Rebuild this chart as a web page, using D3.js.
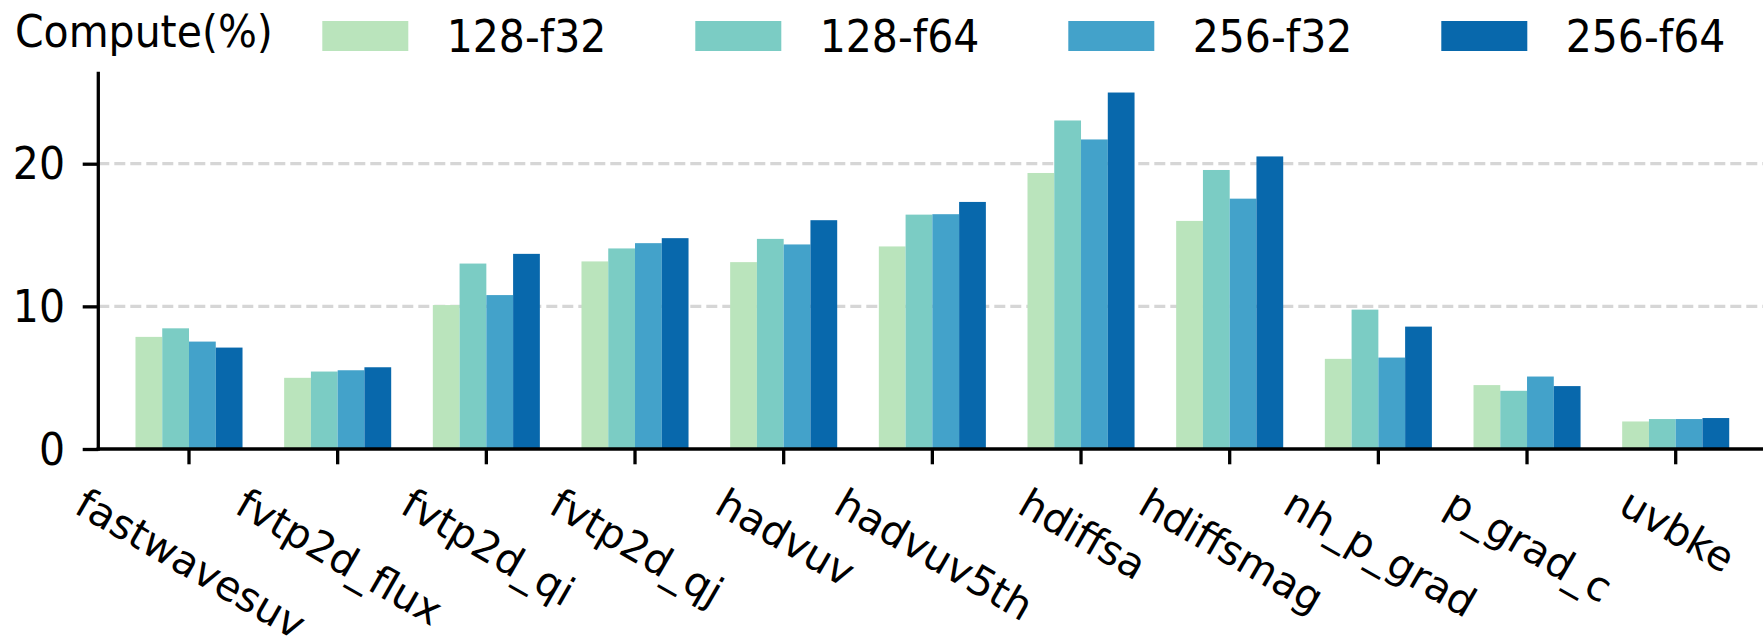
<!DOCTYPE html>
<html>
<head>
<meta charset="utf-8">
<script src="https://cdn.jsdelivr.net/npm/d3@7"></script>
<style>
  html, body { margin: 0; padding: 0; background: #fff; }
  svg { display: block; }
  text { font-family: "DejaVu Sans", sans-serif; fill: #000; }
</style>
</head>
<body>
<svg id="chart" width="1763" height="639"></svg>
<script>
const categories = ["fastwavesuv", "fvtp2d_flux", "fvtp2d_qi", "fvtp2d_qj", "hadvuv",
  "hadvuv5th", "hdiffsa", "hdiffsmag", "nh_p_grad", "p_grad_c", "uvbke"];
const seriesNames = ["128-f32", "128-f64", "256-f32", "256-f64"];
const s128f32 = [7.86, 4.99, 10.09, 13.15, 13.10, 14.20, 19.35, 15.99, 6.32, 4.48, 1.93];
const s128f64 = [8.46, 5.43, 13.00, 14.06, 14.73, 16.43, 23.03, 19.56, 9.77, 4.08, 2.10];
const s256f32 = [7.53, 5.52, 10.79, 14.43, 14.34, 16.46, 21.70, 17.55, 6.41, 5.08, 2.10];
const s256f64 = [7.11, 5.73, 13.68, 14.78, 16.04, 17.32, 24.99, 20.51, 8.58, 4.41, 2.17];
const seriesColors = ["#bae4bc", "#7bccc4", "#43a2ca", "#0868ac"];
const yTicks = [0, 10, 20];
const yLabel = "Compute(%)";

const allSeries = [s128f32, s128f64, s256f32, s256f64];
const FS = 41;
const SY = 1.08; // slight vertical stretch of horizontal text seen in the reference

const svg = d3.select("#chart");

const axisLeftX = 98.3, axisRightX = 1763;
const step = 148.67, firstTick = 189;
const x0 = d3.scaleBand()
  .domain(categories)
  .range([firstTick - step / 2, firstTick - step / 2 + step * categories.length])
  .paddingInner(0.28).paddingOuter(0.14);
const x1 = d3.scaleBand().domain(seriesNames).range([0, x0.bandwidth()]).padding(0);
const y = d3.scaleLinear().domain([0, 26.45]).range([449, 71.7]);

// gridlines
svg.append("g").selectAll("line")
  .data(yTicks.filter(d => d > 0))
  .join("line")
  .attr("x1", axisLeftX).attr("x2", axisRightX)
  .attr("y1", d => y(d)).attr("y2", d => y(d))
  .attr("stroke", "#d6d6d6").attr("stroke-width", 3.2)
  .attr("stroke-dasharray", "11,5");

// bars
const rows = categories.map((c, i) => ({ c, vals: allSeries.map((s, j) => ({ name: seriesNames[j], v: s[i], j })) }));
svg.append("g").selectAll("g")
  .data(rows).join("g")
  .attr("transform", d => `translate(${x0(d.c)},0)`)
  .selectAll("rect")
  .data(d => d.vals).join("rect")
  .attr("x", d => x1(d.name))
  .attr("width", x1.bandwidth())
  .attr("y", d => y(d.v))
  .attr("height", d => y(0) - y(d.v))
  .attr("fill", d => seriesColors[d.j]);

// y axis
const yAxis = svg.append("g")
  .attr("transform", `translate(${axisLeftX},0)`)
  .call(d3.axisLeft(y).tickValues(yTicks).tickSize(15.6).tickPadding(17.7).tickFormat(d3.format("d")));
yAxis.select(".domain").remove();
yAxis.selectAll(".tick line").attr("stroke", "#000").attr("stroke-width", 3.3);
yAxis.selectAll(".tick text").attr("font-size", FS).attr("font-family", "DejaVu Sans")
  .attr("dy", "0.34em").attr("transform", `scale(1,${SY})`);
svg.append("line")
  .attr("x1", axisLeftX).attr("x2", axisLeftX)
  .attr("y1", y.range()[1]).attr("y2", y(0) + 1.7)
  .attr("stroke", "#000").attr("stroke-width", 3.3);

// x axis
const xAxis = svg.append("g")
  .attr("transform", `translate(0,${y(0)})`)
  .call(d3.axisBottom(x0).tickSize(15.3).tickFormat(""));
xAxis.select(".domain").remove();
xAxis.selectAll(".tick line").attr("stroke", "#000").attr("stroke-width", 3.3);
svg.append("line")
  .attr("x1", axisLeftX - 1.7).attr("x2", axisRightX)
  .attr("y1", y(0)).attr("y2", y(0))
  .attr("stroke", "#000").attr("stroke-width", 3.6);

// rotated x labels (bbox centred on tick, like matplotlib rotation=-30, ha=center)
const theta = 30 * Math.PI / 180;
const asc = 0.76 * FS, desc = 0.24 * FS;
const topY = 485;
const lbls = svg.append("g").selectAll("text")
  .data(categories).join("text")
  .attr("font-size", FS)
  .text(d => d);
lbls.each(function (d) {
  const W = this.getComputedTextLength();
  const minX = -desc * Math.sin(theta);
  const maxX = W * Math.cos(theta) + asc * Math.sin(theta);
  const cx = x0(d) + x0.bandwidth() / 2;
  const ox = cx - (minX + maxX) / 2;
  const oy = topY + asc * Math.cos(theta);
  d3.select(this).attr("transform", `translate(${ox},${oy}) rotate(30)`);
});

// y label
svg.append("text").attr("transform", `translate(15,46.7) scale(1,${SY})`).attr("font-size", FS).text(yLabel);

// legend
const legend = svg.append("g").selectAll("g")
  .data(seriesNames).join("g")
  .attr("transform", (d, i) => `translate(${322.3 + i * 373},0)`);
legend.append("rect").attr("x", 0).attr("y", 21).attr("width", 86).attr("height", 30)
  .attr("fill", (d, i) => seriesColors[i]);
legend.append("text").attr("transform", `translate(124.4,51.5) scale(1,${SY})`).attr("font-size", FS).text(d => d);
</script>
</body>
</html>
